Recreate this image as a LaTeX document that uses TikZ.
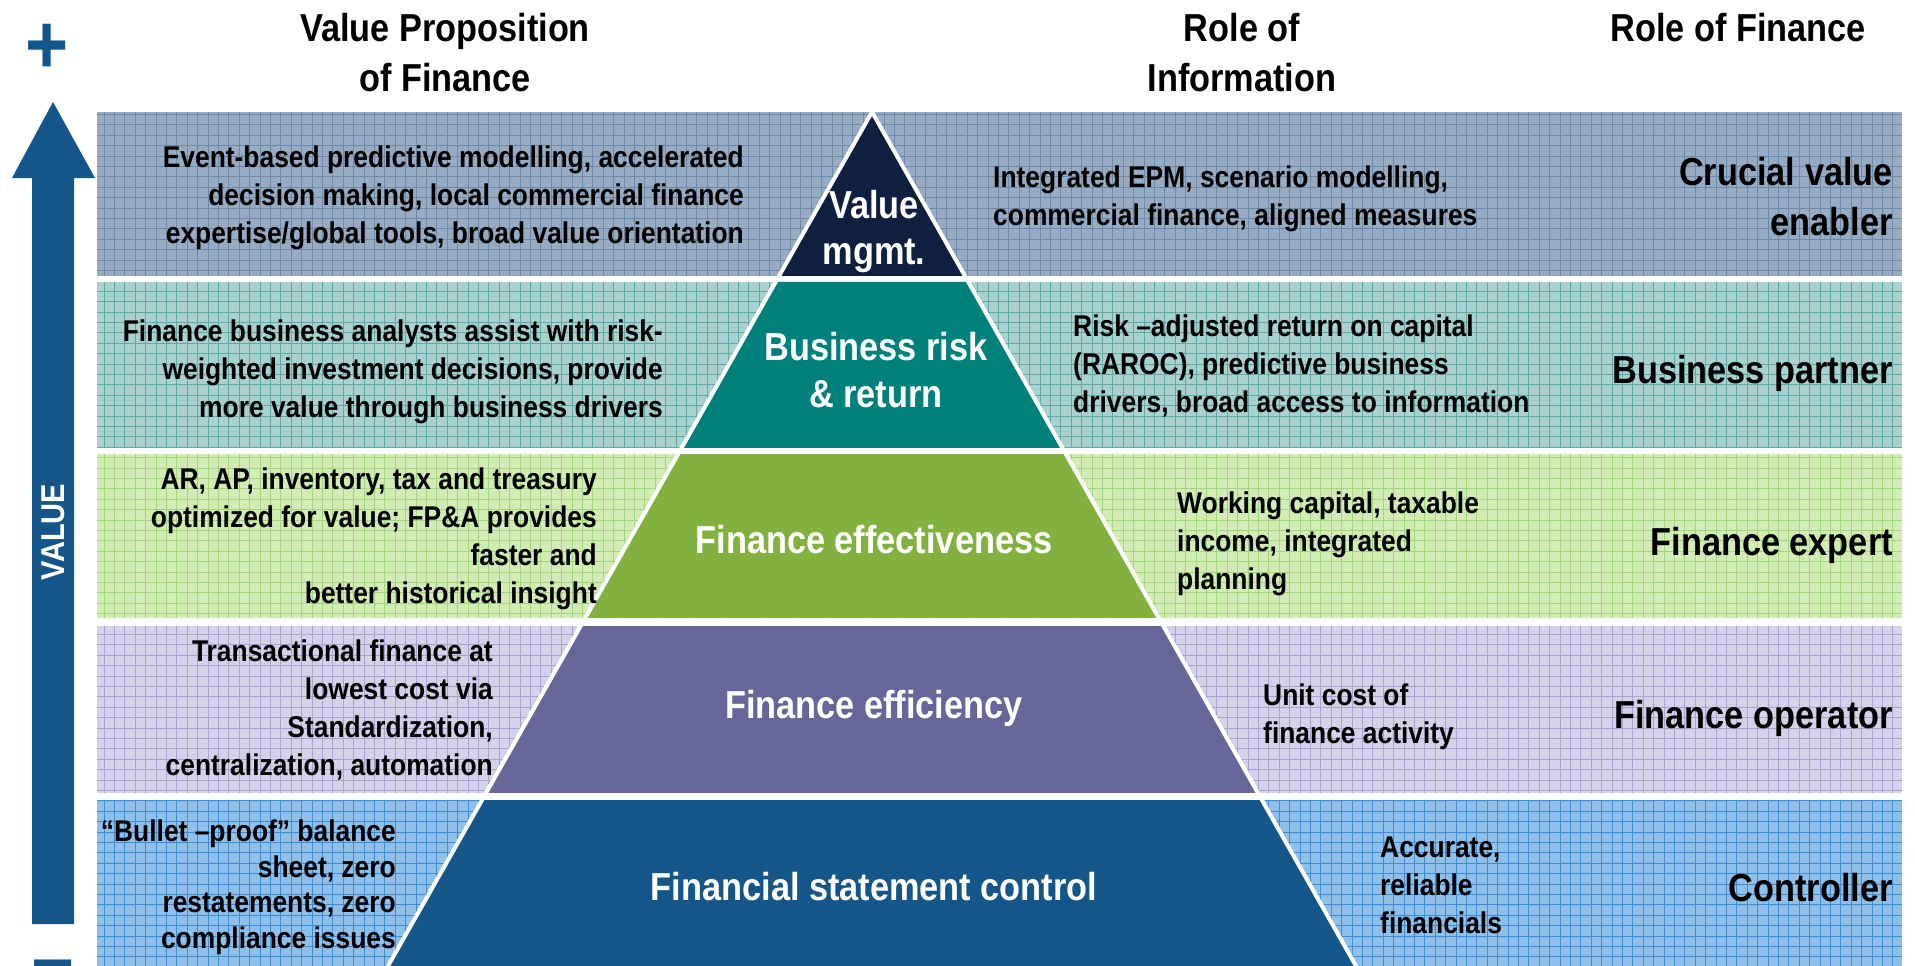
\documentclass[tikz,border=0pt]{standalone}
\usepackage{fontspec}
\setmainfont{Liberation Sans}[FakeStretch=0.88]
\usepackage{tikz}
\usetikzlibrary{calc}

\definecolor{bandA}{HTML}{97ABC3}
\definecolor{gridA}{HTML}{6D89A8}
\definecolor{bandB}{HTML}{A8D1CF}
\definecolor{gridB}{HTML}{62A9A6}
\definecolor{bandC}{HTML}{D3EBB5}
\definecolor{gridC}{HTML}{A2D67E}
\definecolor{bandD}{HTML}{D4D2E8}
\definecolor{gridD}{HTML}{A7A3CE}
\definecolor{bandE}{HTML}{8EC0EA}
\definecolor{gridE}{HTML}{3F8BD4}
\definecolor{layerA}{HTML}{0E1F3F}
\definecolor{layerB}{HTML}{00807A}
\definecolor{layerC}{HTML}{83B13F}
\definecolor{layerD}{HTML}{676699}
\definecolor{layerE}{HTML}{14568A}
\definecolor{arrowblue}{HTML}{14568A}

\tikzset{
  head/.style={font=\bfseries\fontsize{39}{50}\selectfont, align=center, anchor=base},
  note/.style={font=\bfseries\fontsize{30}{38}\selectfont},
  leftnote/.style={note, align=right, anchor=base east},
  rightnote/.style={note, align=left, anchor=base west},
  tier/.style={font=\bfseries\fontsize{39}{46}\selectfont, text=white, align=center, anchor=base},
  role/.style={font=\bfseries\fontsize{39}{50}\selectfont, align=right, anchor=base east},
  sign/.style={font=\bfseries\fontsize{84}{84}\selectfont, text=arrowblue, anchor=base}
}

\begin{document}
\begin{tikzpicture}[x=1pt, y=-1pt, inner sep=0pt]
\useasboundingbox (0,0) rectangle (1915,966);

% pyramid corners
\coordinate (apex) at (872,112);
\coordinate (baseL) at (388,966);
\coordinate (baseR) at (1356,966);

% bands with their pyramid layer
\foreach \yt/\yb/\bandfill/\gridcol/\layerfill in {112/276/bandA/gridA/layerA,
    282/448/bandB/gridB/layerB, 454/618/bandC/gridC/layerC,
    626/793/bandD/gridD/layerD, 800/966/bandE/gridE/layerE} {
  \fill[\bandfill] (97,\yt) rectangle (1902,\yb);
  \draw[\gridcol, line width=0.8pt, step=10.4pt] (97,\yb) grid (1902,\yt);
  \fill[\layerfill] ($(apex)!{(\yt-112)/854}!(baseL)$) -- ($(apex)!{(\yb-112)/854}!(baseL)$)
    -- ($(apex)!{(\yb-112)/854}!(baseR)$) -- ($(apex)!{(\yt-112)/854}!(baseR)$) -- cycle;
}
\draw[white, line width=4pt, line join=round] (baseL) -- (apex) -- (baseR);

% value arrow
\fill[arrowblue] (32,924) -- (32,178) -- (12,178) -- (53,102) -- (95,178) -- (74,178) -- (74,924) -- cycle;
\node[sign] (plus) at (47,74) {+};
\node[sign] (minus) at (53,992) {−};
\node[rotate=90, text=white, font=\bfseries\fontsize{33}{33}\selectfont] (value) at (53,532) {VALUE};

% column headers (anchored on the last line)
\node[head] (hvalue) at (445,92) {Value Proposition\\of Finance};
\node[head] (hinfo) at (1242,92) {Role of\\Information};
\node[head] (hrole) at (1738,42) {Role of Finance};

% pyramid layers
\node[tier] (t1) at (874,264) {Value\\mgmt.};
\node[tier, font=\bfseries\fontsize{39}{47}\selectfont] (t2) at (876,407) {Business risk\\\& return};
\node[tier] (t3) at (874,553) {Finance effectiveness};
\node[tier] (t4) at (874,718) {Finance efficiency};
\node[tier] (t5) at (874,900) {Financial statement control};

% value proposition
\node[leftnote] (v1) at (744,243) {Event-based predictive modelling, accelerated\\decision making, local commercial finance\\expertise/global tools, broad value orientation};
\node[leftnote] (v2) at (663,417) {Finance business analysts assist with risk-\\weighted investment decisions, provide\\more value through business drivers};
\node[leftnote] (v3) at (597,603) {AR, AP, inventory, tax and treasury\\optimized for value; FP\&A provides\\faster and\\better historical insight};
\node[leftnote] (v4) at (493,775) {Transactional finance at\\lowest cost via\\Standardization,\\centralization, automation};
\node[leftnote, font=\bfseries\fontsize{30}{35.5}\selectfont] (v5) at (396,948) {“Bullet –proof” balance\\sheet, zero\\restatements, zero\\compliance issues};

% role of information
\node[rightnote] (i1) at (993,225) {Integrated EPM, scenario modelling,\\commercial finance, aligned measures};
\node[rightnote] (i2) at (1073,412) {Risk –adjusted return on capital\\(RAROC), predictive business\\drivers, broad access to information};
\node[rightnote] (i3) at (1177,589) {Working capital, taxable\\income, integrated\\planning};
\node[rightnote] (i4) at (1263,743) {Unit cost of\\finance activity};
\node[rightnote] (i5) at (1380,933) {Accurate,\\reliable\\financials};

% role of finance
\node[role] (r1) at (1893,235) {Crucial value\\enabler};
\node[role] (r2) at (1893,383) {Business partner};
\node[role] (r3) at (1893,555) {Finance expert};
\node[role] (r4) at (1893,728) {Finance operator};
\node[role] (r5) at (1893,901) {Controller};
\end{tikzpicture}
\end{document}
